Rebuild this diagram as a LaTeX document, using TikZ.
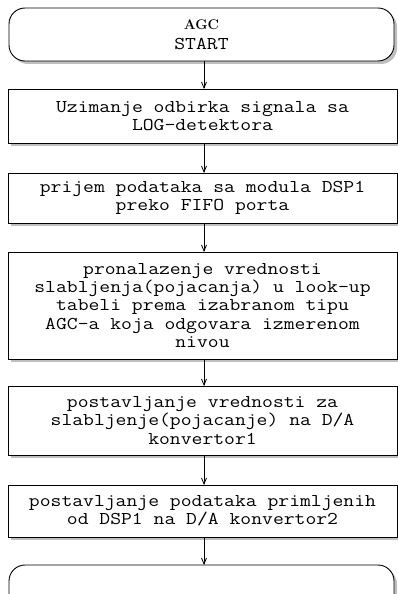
\documentclass[tikz,border=0pt]{standalone}
\usepackage{fontspec}
\setmonofont[FakeStretch=1.17]{Latin Modern Mono}
\usetikzlibrary{arrows.meta,shadows}
\begin{document}
\begin{tikzpicture}[x=1pt,y=1pt,
  every node/.style={inner sep=0pt,outer sep=0pt},
  shad/.style={drop shadow={shadow xshift=3pt,shadow yshift=-3pt,fill=black!25,opacity=1}},
  procbox/.style={draw,line width=0.9pt,fill=white,shad,minimum width=389pt,align=center,
    font=\ttfamily\fontsize{18}{18.3}\selectfont},
  termbox/.style={draw,line width=0.9pt,fill=white,shad,rounded corners=16pt,minimum width=385pt,minimum height=53pt,align=center,
    font=\ttfamily\fontsize{18}{20}\selectfont},
  flow/.style={line width=0.8pt,-{Straight Barb[length=6pt,width=5pt]}}]
\clip (0,0) rectangle (398,-594);
\useasboundingbox (0,0) rectangle (398,-594);
\fill[white] (0,0) rectangle (398,-594);
\node[termbox] (t1) at (201.5,-34.5) {{\rmfamily\fontsize{14}{20}\selectfont\bfseries AGC}\\START};
\node[procbox,minimum height=54pt] (b1) at (202.5,-116) {Uzimanje odbirka signala sa\\LOG-detektora};
\node[procbox,minimum height=50pt] (b2) at (202.5,-198) {prijem podataka sa modula DSP1\\preko FIFO porta};
\node[procbox,minimum height=107pt] (b3) at (202.5,-305.5) {pronalazenje vrednosti\\slabljenja(pojacanja) u look-up\\tabeli prema izabranom tipu\\AGC-a koja odgovara izmerenom\\nivou};
\node[procbox,minimum height=69pt] (b4) at (202.5,-420.5) {postavljanje vrednosti za\\slabljenje(pojacanje) na D/A\\konvertor1};
\node[procbox,minimum height=52pt] (b5) at (202.5,-511) {postavljanje podataka primljenih\\od DSP1 na D/A konvertor2};
\node[termbox] (t2) at (201.5,-591.5) {};
\draw[flow] (t1.south -| 204,0) -- (b1.north -| 204,0);
\draw[flow] (b1.south -| 204,0) -- (b2.north -| 204,0);
\draw[flow] (b2.south -| 204,0) -- (b3.north -| 204,0);
\draw[flow] (b3.south -| 204,0) -- (b4.north -| 204,0);
\draw[flow] (b4.south -| 204,0) -- (b5.north -| 204,0);
\draw[flow] (b5.south -| 204,0) -- (t2.north -| 204,0);
\end{tikzpicture}
\end{document}
